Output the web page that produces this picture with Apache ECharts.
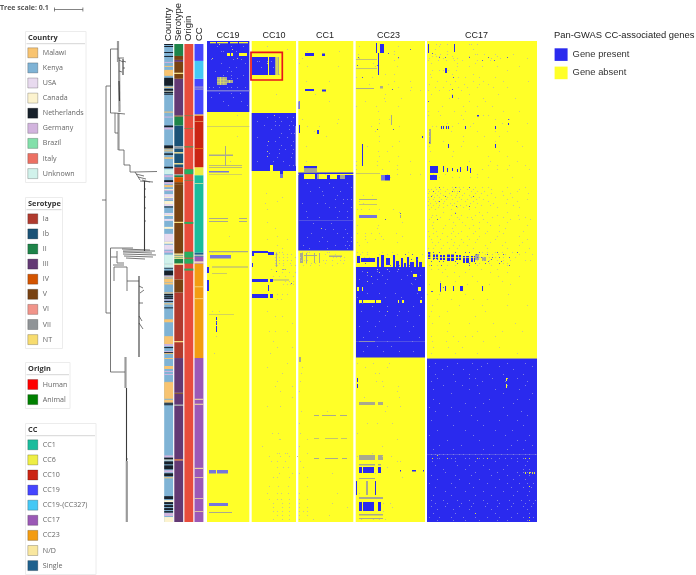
<!DOCTYPE html>
<html><head><meta charset="utf-8">
<style>html,body{margin:0;padding:0;background:#fff}#c{width:696px;height:575px}</style>
<script src="https://cdn.jsdelivr.net/npm/echarts@6/dist/echarts.min.js"></script></head>
<body><div id="c"></div>
<script>
// ---------- categories ----------
const countryNames=['Malawi','Kenya','USA','Canada','Netherlands','Germany','Brazil','Italy','Unknown'];
const countryColors=['#f8c471','#7fb3d5','#e8daef','#fcf3cf','#17202a','#d2b4de','#82e0aa','#ec7063','#d1f2eb'];
const serotypeNames=['Ia','Ib','II','III','IV','V','VI','VII','NT'];
const serotypeColors=['#b03a2e','#1a5276','#1e8449','#633974','#d35400','#784212','#f1948a','#909497','#f7dc6f'];
const originNames=['Human','Animal'];
const originColors=['#e74c3c','#27ae60'];
const originLegendColors=['#ff0000','#008000'];
const ccNames=['CC1','CC6','CC10','CC19','CC19-(CC327)','CC17','CC23','N/D','Single'];
const ccColors=['#1abc9c','#eeee44','#cb2413','#4545ff','#45c8f5','#9b59b6','#f39c12','#f9e79f','#1f618d'];
const stripLabels=['Country','Serotype','Origin','CC'];
const panelNames=['CC19','CC10','CC1','CC23','CC17'];
const panelCenters=[21,67,118,181.5,269.5];
// ---------- metadata strips: [firstStrain,lastStrain,category] ----------
const countryRuns=[[0,481,1],[0,1,4],[2,3,4],[8,9,4],[12,13,4],[18,19,5],[22,23,0],[26,32,0],[34,42,4],[43,44,0],[45,47,4],[47,48,3],[48,49.5,4],[50,51,4],[68,69,0],[73,74,5],
[82,84,4],[84,86,5],[102,105,4],[105,106,0],[107,108,0],[110,111.5,4],[114,115.5,0],[123.5,125,4],[126,131,8],[132,134,5],[137,139,4],[139,141,5],[142,144,0],[146,147,3],[147,148,5],[151,154,2],[154,155,3],[155.5,156.5,5],[158,161,3],[161,163,2],[163.5,164.5,4],[170,172,2],[172,173,3],[176,178,2],[184,186,3],[191,199,2],[199,201,3],[202,207,2],[208,210,5],[212,221,8],[221,222,3],[222,225,8],[225,226,4],[228,233,4],[233,234,5],[234,235,0],[236,240,0],[240.5,242,0],[250,251,0],[251.5,253,4],[253.5,254.5,4],[255,256.5,4],[257,258,5],[258.5,259.5,4],[261,262,0],[265,266,4],[277,280,0],[294,302,0],[302,304,5],[305,306,4],[309,310,5],[310,311,4],[311,312,0],[316,317,0],[324,327,0],[329,330,5],[332,333,5],[340,341,0],[341,357,0],[358,361,0],[361,362,4],[362.5,363.5,4],[414,416,5],[416,418,4],[418,419,3],[420,423,4],[424,428,4],[429,431,5],[432,435,4],[436,437,0],[455,458,4],[459,461,3],[461,463,4],[464,466,4],[467,469,4],[470,471.5,4],[472,475,5],[476,481,3]];
const serotypeRuns=[[0,12,2],[12,16,5],[16,18,3],[18,29,5],[29,30,8],[30,35,5],[35,72,3],[72,73,5],[73,82,2],[82,103,1],[103,105,7],[105,109,1],[109,110,8],[110,120,1],[120,121,8],[121,124,1],[124,131,0],[131,132,7],[132,134,2],[134,139,4],[139,141,5],[141,179,5],[179,180,8],[180,211,5],[211,212,8],[212,213,1],[213,214,8],[214,215,2],[215,216,8],[216,221,2],[221,222,8],[222,237,0],[237,250,5],[250,299,0],[299,300,8],[300,316,0],[316,351,3],[351,352,5],[352,363,3],[363,364,7],[364,418,3],[418,419,4],[419,481,3]];
const originRuns=[[0,481,0],[72,72.5,1],[85,85.5,1],[103,104,1],[126,131,1],[137,137.5,1],[179,181,1],[209,215,1],[216,221,1],[226,228,1]];
const ccRuns=[[0,17,3],[17,35,4],[35,71,3],[71,72,6],[72,124,2],[124,132,1],[132,210,0],[210,212,8],[212,213,7],[213,214,8],[214,219,5],[219,220,7],[220,221,5],[221,316,6],[316,481,5],[244,244.7,7],[256,256.7,7],[357,358,7],[362,363,7],[426.5,427.5,7],[436,436.7,7],[457,457.7,7],[470,470.7,7],[43,43.6,7],[45,45.6,7],[78,78.5,7],[105,105.6,6],[140,140.7,7]];
// ---------- gene matrix blocks: [firstGene,lastGene,firstStrain,lastStrain] ----------
const panelBlocks=[[0,42.3,0,481],[44.7,89,0,481],[91.3,146.3,0,481],[148.7,218,0,481],[220,330,0,481]];
const presentBlocks=[[0,42.3,0,71],
[45,61,16,34],[62,68,16,34],[44.7,89,72,130],[73,76,130,137],
[45,61,210,212],[61,67,211,214],[45,47,212,215],[45,46,222,226],[45,61,238,241],[63,66,238,241],[45,61,253,257],[63,66,253,257],[61,62,244,250],
[98,107,12,15],[115,118,12.5,15],[98,107,48,50],[115,119,48.5,50.5],[92,93,84,92],[110,112,89,93],
[91.3,146.3,138,209.5],[91.3,146.3,131.5,133],[91.3,97,133,138],[108,110,133,138],[120,123,134,138],[130,133,134,138],[138,146.3,134,138],[97,110,125,127.5],
[0,2,226,232],[0,2,239,250],[9,10,276,279],[9,10,280,284],[9,10,285,291],
[149,218,226,316.5],[169,170,2,12],[173,177,3,12],[171,172,12,34],[155,156,103,125],[178,183,134,139.5],[150,153,215,222],[154,168,217,221],[170,172,216,226],[174,177,214,226],[179,183,217,224],[186,188,214,226],[189,192,220,226],[194,196,217,226],[197,199,222,226],[200,202,216,226],[203,207,221,226],[209,211,216,226],[212,215,221,226],
[152,155,426,432],[156,167,426,432],[171,174,426,432],[152,155,461,470],[156,167,461,470],[171,174,461,470],[149,150,440,454],[168,169,440,454],[150,151,337,341],[150,151,343,347],[193,194,429,430.5],[205,209,429,430.5],[216,217,429,430.5],
[220,330,317.5,481],[221,222,3,12],[247,248,3,11],[238,240,27,32],[223,231,125,132],[223,230,134,139],[234,235,85,88],[236,237,85,88],[239,240,85,88],[241,242,85,88],[258,259,85,88],[288,289,85,88],[241,242,103,107],[288,289,103,107],[221,222,74,75],[270,272,74,75.5],[245,246,54,57],[301,302,82,84],[236,237,125,131],[240,241,127,131],[245,246,127,130],[250,251,128,131],[253,254,126,131],[260,261,125,130],[263,264,127,132],
[221,224,211,218],[226,231,213,218],[233,238,214,219],[240,247,213,220],[249,254,214,219],[256,262,215,222],[264,268,215,221],[233,234,242,250],[238,239,245,250],[246,247,245,250],[253,256,245,250],[275,276,245,250],[215,216,95,97]];
const absentHoles=[[3,9,1,2.3],[10,21,1,2.3],[23,31,1,2.3],[32,41,1,2.3],[32,40,12,15],[20,23,12,15],[24,26,12,15],[63,66,124,130],
[152,155,259,262],[156,168,259,262],[169,174,259,262],[191,192,259,262],[195,197,259,262],[213,215,259,262],[150,152,246,250],[155,156,246,250],[211,214,246,250],[206,210,233,236],[299,300,337,340],[299,300,343,347],
[223,223.7,211,218],[228,229,213,218],[235,236,214,219],[243,244,213,220],[251,252,214,219],[258,259,215,222],[266,267,215,221],[220,270,216,216.7],[220,270,213.5,214]];
const mixedBlocks=[[10,20,36,44],[20,26,39,42],[0,42.3,85,85.5],[2,26,113.5,115],[18,19,105,125],[2,35,124,124.7],[2,35,126,126.7],[2,35,133,133.6],[2,21,177,178],[32,40,177,178],[2,21,180,181],[32,40,180,181],[2,41,210,211.2],[5,41,225.5,226.5],[5,20,232,232.6],[2,27,273,273.5],[2,25,471,472],
[68,69.5,16,34],[70.5,72,16,34],[69,70,212,226],[66,82,238.5,239.5],[75,79,228,229],
[97,110,127.5,131],[110,112,133,138],[133,138,134,138],[93,96,212,222],[97,110,214,215],[99,100,212,222],[107,108,212,222],[112,113,212,222],[122,135,214.5,216],[107,112,374,375],[115,129,374,375],[133,140,374,375],[107,112,397,397.7],[118,131,397,397.7],[134,140,397,397.7],[107,112,417,418],[118,131,417,418],[135,140,417,418],[92,94,316,321],
[149,170,18,18.7],[149,170,27,27.7],[149,167,47,48],[173,176,45,47.5],[184,185,74,84],[149,173,132,132.6],[152,170,158,159],[152,170,163,163.7],[193,194,174,177],[152,168,300,301],[152,168,361,364],[171,176,361,364],[152,168,414,419],[171,176,414,419],[152,168,423,424.5],[171,174,423,424.5],[152,168,437,438],[159,161,440,454],[152,176,456,458],[152,176,473,474.5],[152,176,477,478],
[222,224,88,103],[268,272,213,219],[275,279,216,220],[220,330,317,317.6]];
const stripedCells=[[13,14,36,44],[16.5,17.2,36,44],[10,20,38.5,39.2],[10,20,41,41.6],[22,23,39,42]];
const lavenderBlocks=[[0,42.3,49,50.5],[3,24,214,217.5],[2,22,130,131.5],[2,9,429,432.5],[10,21,429,432.5],[2,21,462,465],[91.3,146.3,179,179.6],[91.3,93,60,68],[174,178,134,139.5],[152,170,174,177],[73,76,133,137],[149,218,300,300.5],[220,330,413,413.5],[88,89,85,125]];
// ---------- individual cells: [strain,gene,gene,...] ----------
const specksOnAbsent=[[3,12,229,233,240,262,264,270],[5,60,152,191,232],[8,25,80,228,266],[10,100,132,187,240],[13,151,187,228,233,240,268,270,277,288,306],[15,225,229,232,245,262,290],[17,5,30,95,152,191,222,236,246,250,284,293,320],[19,187,221,231,239,247,255,270,283],[22,60,92,166,224,250,268],[25,100,131,168,190,250,262,275,290,312],[29,225,232,236,241,249,300],[33,72,178,187,223,245,266],[36,149,165,224,251,258,272,288],[40,99,122,187,203,230,239,248,266,276,296,321],[43,162,181,222,243,257,272,281],[46,191,204,228,236,251,260,270,286,300],[49,203,213,221,232,242,254],[53,69,108,178,224,245,262,291],[57,177,194,242,251,276,308],[60,91,122,158,178,221,262,278],[65,149,169,191,235,256,270,285],[70,171,221,231,247,258,296,312],[74,30,67,221,233,254,276,281],[78,95,131,172,182,256,288,302],[82,130,172,240,251,266,295,320],[85,100,112,164,192,225,229,245,263],[90,107,168,222,244,270,288,300],[95,30,119,172,222,256,277,292],[100,61,172,192,236,256,288,310],[105,99,160,185,222,254,270,315],[110,60,171,180,223,246,292],[115,60,172,191,245,281,300],[120,23,99,149,170,182,203,222,262,283,310],[124,149,170,190,281,290,302,318],[128,149,175,190,275,290,300,322],[133,91,118,180,190,203,213,226,238,270],[136,183,232,245,252,263,270,281,305],
[146,228,232,236,245,249,252,256,262,268,275,281,300,318],[148,221,224,229,233,240,246,253,260,266,284,312],[150,222,226,231,238,247,250,264,270,277,295,310],[152,59,221,228,233,242,250,257,268,274,284,303,321],[154,156,165,225,230,236,244,249,255,262,280,296],[156,75,221,227,232,240,248,252,264,272,288,305],[158,222,226,234,239,245,254,260,269,276,300,320],[160,70,152,221,228,231,237,250,258,266,281,310],[162,58,156,223,229,236,243,247,263,270,286,299],[164,221,226,232,240,245,253,259,274,283,306],[166,224,231,236,250,256,268,290,312],[168,60,150,154,162,172,186,222,228,244,262],[171,192,236,248,272,280,300],[174,225,229,244,254,268,275,290,311],[176,224,233,250,260,264,285,296,318],[178,222,230,242,252,265,276,303,312,323],[181,60,195,226,246,255,272,280,300],[184,150,171,225,238,248,258,266,283,292,320],[187,68,114,170,226,236,245,262,272,298],[190,221,229,246,254,268,280,292,316],[192,150,158,164,172,189,226,235,244,251,266,278,296],[195,22,70,158,174,195,222,230,240,248,260,272,290,312],[198,60,80,158,168,176,224,233,244,254,262,270,288,320],[201,150,160,190,225,231,240,247,256,268,283,298,315],[204,70,152,228,236,246,252,260,278,295,312],[207,75,221,226,234,242,250,266,280,300,322],
[211,5,25,69,72,75,95,100,102,120,122,150,155,160,175,185,201,275,280,288,295,305,318],[213,68,70,76,80,84,118,128,153,160,172,180,190,198,205,215,272,278,285,291,298,312,325],[216,68,72,76,80,88,93,126,129,133,137,157,162,272,276,282,288,296,302,308],[219,68,72,76,80,84,94,97,100,116,119,125,133,137,270,276,282,290,296,303,318,323],[222,68,72,76,83,99,104,108,118,130,136,272,278,282,296,300],[224,68,70,76,84,88,96,103,112,125,222,230,240,248,262,270,284,300],[228,64,77,170,180,191,224,231,238,262,274,290],[231,75,82,88,160,172,235,247,258,283,300],[235,66,72,78,86,164,240,252,265,291,312],[240,78,82,86,160,233,248,270,295],[243,76,80,83,86,222,260,282,303],[253,70,75,80,220,232,258,301],[258,70,74,230,244,266,280],[264,225,252,275,300,320],[270,5,12,60,180,224,240,278],[275,68,75,222,232,268],[282,85,225,242,262,286,308],[290,62,68,80,240,270,295,315],[295,9,224,246,258,265,288],[300,66,225,239,251,276],[306,70,85,226,241,255,292],[312,7,63,224,248,270,310],
[322,80,150,166,182],[326,60,95,158,180],[332,75,94,168,172],[340,70,93,169,175],[345,68,85,176,191],[350,73,92,190],[356,85,157,192],[365,60,73,180,193],[370,94,120,178],[382,92,160,170,185],[392,65,71,93,150],[398,72,73,100,190],[405,55,92,175],[412,70,72,100,80,78,165],[415,62,73,82,90,150,175,184],[420,64,70,78,93,190,193],[426,70,76,81,96,180],[432,72,85,92,125,168],[436,66,70,82,100,195],[445,62,71,81,100],[452,60,70,74,81,92,130,152],[458,62,70,74,82,92,100],[462,66,75,82,92,125,176,183],[466,66,75,82,92,100,140,185],[470,66,70,75,82,92,96,100,176],[474,70,75,82,92,100,122],[478,66,75,82,92,106,154,166,172,178]];
const specksStrong=[[8,203],[12,181,225],[16,151,191,232,238,262,281,300],[19,275,287],[24,150,170],[36,155,246],[48,245,185],[60,221],[78,301],[88,186,170],[101,222],[146,232,248,262],[150,226,245,252],[155,224,238,266],[160,232],[165,249,262],[172,193,248],[178,178,230],[211,226,232,248,258,262,272,290,310],[213,198,205,222,269,280,296],[216,270,274,285,292,302],[218,204,210,226,230,284],[220,224,232,236,248,281,294],[222,158,250,262,268,278,292],[224,183,192,202,224,234,262,302],[250,224,225,233],[230,69,190],[242,84],[243,205],[246,236],[262,152,155],[281,9]];
const specksOnPresent=[[5,10,24,36],[10,14,16,29],[18,4,26,34],[22,14,38],[26,22,29],[30,8,20,24],[34,16,24,36],[37,24,30],[46,2,6,12,20,24,30,38],[52,12,24,33],[56,4,26],[60,16,34],[64,21,40],
[20,50,52,60,64],[26,54,66],
[76,60,72,80,86],[80,50,68,74,84],[84,57,68,72,82,86],[88,64,82],[92,74,84,87],[96,50,72,80],[100,68,86],[104,60,74,84],[108,72,78,86],[112,62,72,85],[116,70,84],[120,50,66,76],[124,82,86],
[142,100,122,140],[146,112,126,144],[150,103,115,133],[154,116,130],[158,128,136,140,144],[162,95,110,118,136],[166,122,128,144],[170,99,132,140],[176,100,112,130,140],[182,106,124],[188,118,126,138],[192,104,130,140],[196,100,115,136,144],[200,112,120,140,144],[204,96,128,138,142],[207,102,120,140],
[230,155,170,182,190,204],[234,160,175,200,213],[238,152,170,180,194,208],[242,165,178,204],[252,160,172,188,210],[256,150,178,194,214],[265,165,180,206],[270,154,172,192,201],[274,178,190,212],[280,160,172,200],[285,152,168,188,206],[290,162,176,202],[296,156,170,192,212],[300,180,205],[305,160,170,184],[310,156,176,192,206],
[322,228,250,265,280,300,318],[325,222,240,274,292,325],[328,235,256,270,306],[333,228,246,262,282,296,316],[337,230,262,268,285,310],[340,224,248,275,298,320],[344,236,255,270,300,318],[348,226,262,288,312],[352,244,272,296,325],[358,226,282,310,322],[362,232,258,276,306],[366,222,244,268,296],[370,228,252,282,314],[374,240,264,300,320],[379,224,270,292,310],[384,246,276,316],[389,230,258,288,305],[394,222,266,298,322],[399,240,272,310,318],[404,232,254,286,304,325],[408,226,246,276,300,316],
[413,224,228,232,236,240,246,252,256,262,268,274,282,288,294,300,306,312,318,322,328],[417,230,232,244,248,258,262,272,276,284,292,298,304,310,316,322],[420,225,248,268,288,310,320],[424,228,250,262,276,300,318],[428,236,258,282,296,316,322],[431,238,268,290,310,316,320,325],[434,224,248,264,284,300,312,322],[438,230,252,272,292,306,318],[442,222,244,262,280,300,312,320,326],[446,228,248,266,288,304,316,324],[450,238,258,276,296,310,322],[454,226,244,268,284,306,320],[459,224,236,250,262,276,290,302,314,322,328],[462,228,240,254,266,280,292,306,318,326],[465,224,238,252,264,278,290,304,316,324],[468,230,246,262,284,300,320],[472,226,248,268,288,310,322],[476,222,232,244,256,268,280,292,304,316,326],[479,230,246,258,272,290,300,320]];
const specksYellowOnPresent=[[414,230],[417,225,240,270,280,318,322],[431,318,322,323,325,327],[432,318,322,325,327],[337,300],[445,322],[476,322],[472,268],[479,322]];
const highlightBox=[[44,75.3,11.3,39]];
// ---------- phylogeny branches: [fromDist,fromStrain,toDist,toStrain] ----------
const treeThin=[[2,159,6,159],[6,45,6,272],[6,45,10.5,45],[10.5,8,10.5,72],[10.5,8,18,8],[18,17,24,17],[19,19,23,21],[23,20,26,21],[23,27,25,27],[19,30,22,31],
[10.5,72,15,72],[15,72,15,92],[15,72,25,73],[15,92,18,92],[18.5,109,24,109],[24,109,24,124],[24,124,30,124],[30,124,30,131],[30,131,35,131],[35,131,57,130.5],[35,131,40,139],[40,140,53,141],[36,133,44,135],[38,136,46,138],[42,139,50,141],[44.5,148,46,148],[44.5,156,46,156],[44.5,167,46,167],[44.5,180,46,180],
[10.5,207,10.5,331],[6,272,10.5,272],[10.5,207,33,207],[22,208,50,209],[23,210,55,210],[23,211,52,212],[23,213,56,214],[24,215,53,216],[26,217,45,218],[11,216,17,216],[17,210,17,222],[17,222,24,222],[13,224,24,224],[14,226,14,240],[14,226,27,226],[27,226,27,250],[27,240,39,240],[39,245,43,247],[40,252,44,249],[39,262,43,262],[39,275,42,280],[39,282,43,288],[10.5,331,25,331],[26.5,418,28,418]];
const treeWide=[[18,0,18,21],[19,17,19.5,71],[18.5,72,18.5,109],[25.5,316,25.5,347],[26.8,420,26.8,481]];
const treeDark=[[23,18,23,34],[44.5,140,44.5,210],[39,235,39,316],[26.5,347,26.5,420],[19,40,19.5,60]];
// ---------- helpers ----------
const toCells=l=>l.flatMap(([r,...cs])=>cs.map(c=>[c,c+1,r,r+1]));
const rectItem=(p,api)=>{const a=api.coord([api.value(0),api.value(2)]),b=api.coord([api.value(1),api.value(3)]);
 return {type:'rect',shape:{x:a[0],y:a[1],width:b[0]-a[0],height:b[1]-a[1]},style:{fill:api.visual('color')}}};
const heat=(name,data,color,z)=>({type:'custom',name,xAxisIndex:2,yAxisIndex:2,data,itemStyle:{color},renderItem:rectItem,silent:true,z,animation:false,clip:true});
const tree=(data,color,w)=>({type:'custom',xAxisIndex:0,yAxisIndex:0,data,silent:true,animation:false,z:2,
 renderItem:(p,api)=>{const a=api.coord([api.value(0),api.value(1)]),b=api.coord([api.value(2),api.value(3)]);
  return {type:'line',shape:{x1:a[0],y1:a[1],x2:b[0],y2:b[1]},style:{stroke:color,lineWidth:w}}}});
const stripItem=(p,api)=>{const a=api.coord([api.value(0),api.value(1)]),b=api.coord([api.value(0),api.value(2)]);const w=8.9;
 return {type:'rect',shape:{x:a[0]-w/2,y:a[1],width:w,height:b[1]-a[1]},style:{fill:api.visual('color')}}};
const strip=(idx,names,colors,runs,base)=>names.map((n,i)=>({type:'custom',name:n,xAxisIndex:1,yAxisIndex:1,renderItem:stripItem,silent:true,animation:false,
 z:i===base?2:3,itemStyle:{color:colors[i]},data:runs.filter(r=>r[2]===i).map(r=>[idx,r[0],r[1]])}));
const series=[
 tree(treeWide,'#9a9a9a',2.2),tree(treeThin,'#555',0.8),tree(treeDark,'#3a3a3a',1.1),
 ...strip(0,countryNames,countryColors,countryRuns,1),
 ...strip(1,serotypeNames,serotypeColors,serotypeRuns,-1),
 ...strip(2,originNames,originColors,originRuns,0),
 ...strip(3,ccNames,ccColors,ccRuns,-1),
 heat('Gene absent',panelBlocks,'#ffff28',2),
 heat('Gene present',presentBlocks,'#2a2aee',3),
 heat('absent cells',absentHoles,'#ffff28',4),
 heat('mixed',mixedBlocks,'#a9a98e',5),
 heat('mixed light',stripedCells,'#dede60',6),
 heat('mixed blue',lavenderBlocks,'#7676dc',5),
 heat('cells',toCells(specksOnAbsent),'#c9c98a',6),
 heat('cells strong',toCells(specksStrong),'#5a5ad0',6),
 heat('cells on present',toCells(specksOnPresent),'#7b7be6',6),
 heat('cells yellow',toCells(specksYellowOnPresent),'#e0e040',7),
 {type:'custom',name:'highlight',xAxisIndex:2,yAxisIndex:2,data:highlightBox,silent:true,animation:false,z:9,
  renderItem:(p,api)=>{const a=api.coord([api.value(0),api.value(2)]),b=api.coord([api.value(1),api.value(3)]);
   return {type:'rect',shape:{x:a[0],y:a[1],width:b[0]-a[0],height:b[1]-a[1]},style:{fill:'none',stroke:'#e8141c',lineWidth:1.7}}}}
];
const FONT='Open Sans';
const legendBox=(names,colors,left,top)=>({orient:'vertical',left,top,height:160,padding:0,icon:'rect',itemWidth:10,itemHeight:10,itemGap:4.1,selectedMode:false,
 textStyle:{fontFamily:FONT,fontSize:7.1,color:'#666',lineHeight:10},
 data:names.map((n,i)=>({name:n,itemStyle:{color:colors[i],borderColor:'rgba(0,0,0,0.22)',borderWidth:1,opacity:1}}))});
const box=(x,y,w,h,title)=>[
 {type:'rect',shape:{x:x+.5,y:y+.5,width:w,height:h},style:{fill:'#fff',stroke:'#ececec',lineWidth:1},z:-1},
 {type:'rect',shape:{x:x+1.5,y:y+12,width:w-2,height:1.2},style:{fill:'#ddd'},z:-1},
 {type:'text',x:x+3,y:y+6.5,style:{text:title,fontFamily:FONT,fontWeight:'bold',fontSize:7.4,fill:'#333',textVerticalAlign:'middle'},z:5}];
const option={animation:false,backgroundColor:'#fff',
 title:{text:'Pan-GWAS CC-associated genes',left:554,top:31,padding:0,textStyle:{fontFamily:'Liberation Sans',fontSize:9.4,fontWeight:'normal',color:'#222'}},
 grid:[{left:100,top:41,width:60,height:481},{left:163.6,top:41,width:40.4,height:481},{left:207,top:41,width:330,height:481}],
 xAxis:[
  {gridIndex:0,type:'value',min:0,max:60,show:false},
  {gridIndex:1,type:'category',data:stripLabels,position:'top',axisLine:{show:false},axisTick:{show:false},
   axisLabel:{interval:0,rotate:90,margin:3,fontFamily:'Liberation Sans',fontSize:9.5,color:'#222'}},
  {gridIndex:2,type:'value',min:0,max:330,position:'top',axisLine:{show:false},axisTick:{show:false},splitLine:{show:false},
   axisLabel:{customValues:panelCenters,margin:1,fontFamily:'Liberation Sans',fontSize:9,color:'#222',hideOverlap:false,
    formatter:v=>panelNames[panelCenters.indexOf(v)]||''}}],
 yAxis:[0,1,2].map(g=>({gridIndex:g,type:'value',min:0,max:481,inverse:true,show:false,splitLine:{show:false}})),
 legend:[
  legendBox(countryNames,countryColors,27.3,47.3),
  legendBox(serotypeNames,serotypeColors,27.3,213.3),
  legendBox(originNames,originLegendColors,27.3,379),
  legendBox(ccNames,ccColors,27.3,439.3),
  {orient:'vertical',left:554.6,top:48.3,padding:0,icon:'rect',itemWidth:13,itemHeight:12.6,itemGap:5.7,selectedMode:false,
   textStyle:{fontFamily:'Liberation Sans',fontSize:9.4,color:'#333'},data:['Gene present','Gene absent']}],
 graphic:{elements:[
  ...box(25,31,60.5,151,'Country'),...box(25,197,37,151,'Serotype'),...box(25,362,44.5,46,'Origin'),...box(25,423,70.5,151,'CC'),
  {type:'text',x:0,y:8,style:{text:'Tree scale: 0.1',fontFamily:FONT,fontWeight:'bold',fontSize:7,fill:'#555',textVerticalAlign:'middle'}},
  {type:'rect',shape:{x:54,y:9,width:29,height:.8},style:{fill:'#666'}},
  {type:'rect',shape:{x:54,y:7.5,width:.8,height:4},style:{fill:'#666'}},
  {type:'rect',shape:{x:82.5,y:7.5,width:.8,height:4},style:{fill:'#666'}}]},
 series};
echarts.init(document.getElementById('c'),null,{renderer:'canvas'}).setOption(option);
</script></body></html>
